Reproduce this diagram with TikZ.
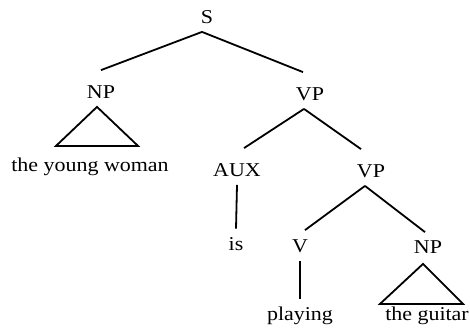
\documentclass[tikz,border=0pt]{standalone}
\usepackage{fontspec}
\setmainfont{Liberation Serif}[FakeStretch=1.12]
\begin{document}
\begin{tikzpicture}[x=0.5pt, y=-0.5pt, line width=0.9pt,
        font=\fontsize{9.8}{12}\selectfont,
        cat/.style = {anchor=base, inner sep=0pt, text height=13.5pt, text depth=4pt},
        word/.style = {anchor=base, inner sep=0pt, text height=10.2pt, text depth=2.1pt}]
        \useasboundingbox (0,0) rectangle (470,334);
        % categories
        \node[cat] (s) at (207,23) {S};
        \node[cat] (np1) at (101,98) {NP};
        \node[cat] (vp1) at (310,100) {VP};
        \node[cat] (aux) at (237,176) {AUX};
        \node[cat] (vp2) at (371,177) {VP};
        \node[cat] (v) at (300,252) {V};
        \node[cat] (np2) at (428,253) {NP};
        % words
        \node[word] (tyw) at (90,171) {the young woman};
        \node[word] (is) at (236,250) {is};
        \node[word] (playing) at (300,320) {playing};
        \node[word] (guitar) at (427,320) {the guitar};
        % branches
        \draw ([xshift=-2.5pt]s.south) -- (np1.north);
        \draw ([xshift=-2.5pt]s.south) -- ([xshift=-3.5pt]vp1.north);
        \draw ([xshift=-3pt]vp1.south) -- ([xshift=3.5pt]aux.north);
        \draw ([xshift=-3pt]vp1.south) -- ([xshift=-5pt]vp2.north);
        \draw ([xshift=-3pt]vp2.south) -- ([xshift=2.5pt,yshift=-3pt]v.north);
        \draw ([xshift=-3pt]vp2.south) -- ([xshift=-1.5pt,yshift=-3.5pt]np2.north);
        \draw (aux.south) -- (is.north);
        \draw (v.south) -- (playing.north);
        % triangles
        \draw ([xshift=-2pt]np1.south) -- ++(-41,39) -- ++(82,0) -- cycle;
        \draw ([xshift=-2.5pt,yshift=-1pt]np2.south) -- ++(-43,40) -- ++(83,0) -- cycle;
\end{tikzpicture}
\end{document}
